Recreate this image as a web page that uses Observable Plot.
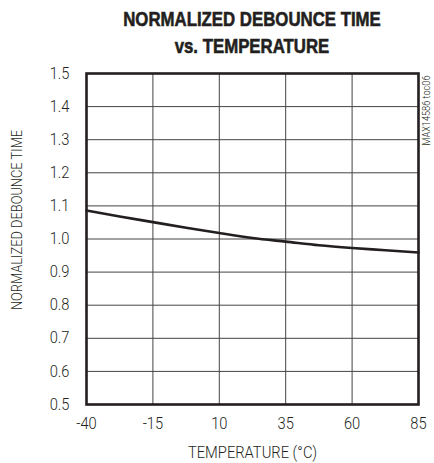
<!DOCTYPE html>
<html><head><meta charset="utf-8">
<script src="https://cdn.jsdelivr.net/npm/d3@7"></script>
<script src="https://cdn.jsdelivr.net/npm/@observablehq/plot@0.6"></script>
<style>
body{margin:0;background:#fff;}
#wrap{position:relative;width:434px;height:463px;}
#title{position:absolute;left:0;top:0;width:434px;height:60px;font-family:"Liberation Sans","Arial",sans-serif;font-weight:bold;font-size:21px;color:#231f20;-webkit-text-stroke:0.6px #231f20;}
#title div{position:absolute;left:252px;transform:translateX(-50%) scaleX(0.80);white-space:nowrap;line-height:1;}
#chart{position:absolute;left:0;top:60px;}
#chart text{font-weight:300;}
</style></head><body>
<div id="wrap">
<div id="title"><div style="top:8px">NORMALIZED DEBOUNCE TIME</div><div style="top:35px">vs. TEMPERATURE</div></div>
<div id="chart"></div>
</div>
<script>
const temperature = [-40, -27.5, -15, -2.5, 10, 22.5, 35, 47.5, 60, 72.5, 85];
const debounceTime = [1.086, 1.068, 1.051, 1.034, 1.018, 1.003, 0.992, 0.981, 0.973, 0.966, 0.959];
const xTicks = [-40, -15, 10, 35, 60, 85];
const yTicks = [0.5, 0.6, 0.7, 0.8, 0.9, 1.0, 1.1, 1.2, 1.3, 1.4, 1.5];

const data = temperature.map((t, i) => ({t, v: debounceTime[i]}));
const font = 'Roboto,"Liberation Sans",Arial,sans-serif';
const ink = "#231f20";

const chart = Plot.plot({
  width: 434,
  height: 403,
  marginTop: 13,
  marginBottom: 59,
  marginLeft: 86,
  marginRight: 16,
  style: {fontFamily: font, fontSize: "16px", color: ink, background: "#fff"},
  x: {domain: [-40, 85], label: null},
  y: {domain: [0.5, 1.5], label: null},
  marks: [
    Plot.gridX(xTicks, {stroke: "#444", strokeOpacity: 1, strokeWidth: 1}),
    Plot.gridY(yTicks, {stroke: "#444", strokeOpacity: 1, strokeWidth: 1}),
    Plot.line(data, {x: "t", y: "v", stroke: ink, strokeWidth: 2.6, curve: "natural"}),
    Plot.frame({stroke: ink, strokeWidth: 2.6}),
    Plot.axisX(xTicks, {tickSize: 0, tickPadding: 13, fontSize: 16, label: null, tickFormat: d => String(d)}),
    Plot.axisY(yTicks, {tickSize: 0, tickPadding: 17, fontSize: 16, label: null, tickFormat: d => d.toFixed(1)}),
    Plot.text(["TEMPERATURE (°C)"], {frameAnchor: "bottom", lineAnchor: "middle", dy: 48, fontSize: 16, fill: ink}),
    Plot.text(["NORMALIZED DEBOUNCE TIME"], {frameAnchor: "left", textAnchor: "middle", lineAnchor: "middle", dx: -69, dy: -19, rotate: -90, fontSize: 14, fill: ink}),
    Plot.text(["MAX14586 toc06"], {frameAnchor: "top-right", textAnchor: "end", lineAnchor: "middle", dx: 8, dy: 2, rotate: -90, fontSize: 10, fill: ink})
  ]
});

// condense all chart text horizontally (reference uses a condensed face)
const squeeze = 0.92;
chart.querySelectorAll("text").forEach(t => {
  const tr = t.getAttribute("transform");
  if (tr) {
    t.setAttribute("transform", tr + ` scale(${squeeze},1)`);
  } else {
    const x = parseFloat(t.getAttribute("x") || 0);
    const yAttr = t.getAttribute("y");
    const y = yAttr && !/em$/.test(yAttr) ? parseFloat(yAttr) : 0;
    t.removeAttribute("x");
    if (yAttr && !/em$/.test(yAttr)) t.removeAttribute("y");
    t.setAttribute("transform", `translate(${x},${y}) scale(${squeeze},1)`);
  }
});
document.getElementById("chart").appendChild(chart);
</script>
</body></html>
